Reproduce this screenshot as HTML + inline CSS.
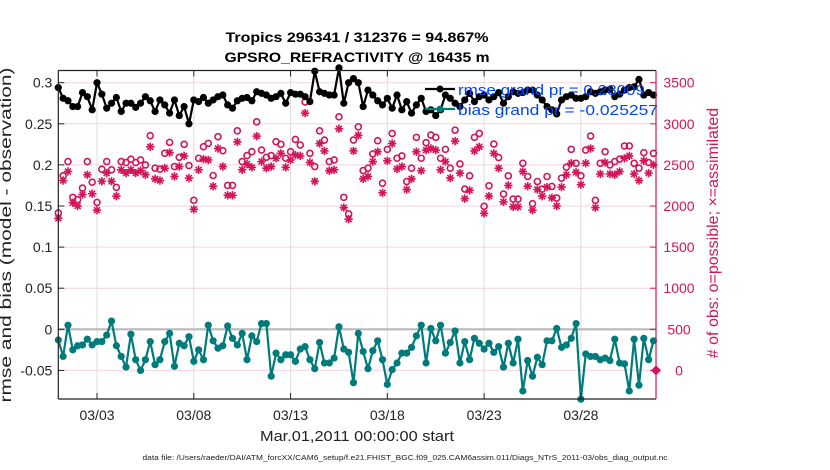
<!DOCTYPE html>
<html><head><meta charset="utf-8"><style>
html,body{margin:0;padding:0;background:#fff;}
svg{display:block;font-family:"Liberation Sans",Arial,sans-serif;}
</style></head><body>
<svg id="chart" width="830" height="470" viewBox="0 0 830 470" xmlns="http://www.w3.org/2000/svg">
<g>
<text x="357" y="42" text-anchor="middle" font-size="14" font-weight="bold" textLength="263" lengthAdjust="spacingAndGlyphs">Tropics 296341 / 312376 = 94.867%</text>
<text x="357" y="62" text-anchor="middle" font-size="14" font-weight="bold" textLength="265" lengthAdjust="spacingAndGlyphs">GPSRO_REFRACTIVITY @ 16435 m</text>
</g>
<g id="grid"></g>
<g id="marks"></g>
<g id="axes"></g>
<g>
<line x1="425" y1="89" x2="455" y2="89" stroke="#000" stroke-width="2.2"/>
<circle cx="440" cy="89" r="3.5" fill="#000"/>
<line x1="425" y1="109" x2="455" y2="109" stroke="#007b7b" stroke-width="2.2"/>
<circle cx="440" cy="109" r="3.5" fill="#007b7b"/>
<text x="458" y="95" font-size="15" fill="#0044ff" textLength="187" lengthAdjust="spacingAndGlyphs">rmse grand pr = 0.28009</text>
<text x="458" y="115" font-size="15" fill="#0044ff" textLength="200" lengthAdjust="spacingAndGlyphs">bias grand pr = -0.025257</text>
</g>
<text transform="translate(11,235) rotate(-90)" text-anchor="middle" font-size="16" fill="#222" textLength="335" lengthAdjust="spacingAndGlyphs">rmse and bias (model - observation)</text>
<text transform="translate(718,233) rotate(-90)" text-anchor="middle" font-size="16" fill="#d4145a">#  of obs: o=possible; ×=assimilated</text>
<text x="357" y="441" text-anchor="middle" font-size="15" fill="#222" textLength="194" lengthAdjust="spacingAndGlyphs">Mar.01,2011 00:00:00 start</text>
<text x="405" y="460" text-anchor="middle" font-size="7" fill="#222" textLength="525" lengthAdjust="spacingAndGlyphs">data file: /Users/raeder/DAI/ATM_forcXX/CAM6_setup/f.e21.FHIST_BGC.f09_025.CAM6assim.011/Diags_NTrS_2011-03/obs_diag_output.nc</text>
</svg>
<script>
const rmse=[0.294,0.281,0.278,0.271,0.271,0.288,0.283,0.267,0.300,0.286,0.269,0.275,0.282,0.265,0.275,0.275,0.270,0.275,0.283,0.278,0.265,0.279,0.273,0.263,0.279,0.260,0.271,0.250,0.279,0.277,0.282,0.275,0.279,0.283,0.285,0.273,0.269,0.278,0.281,0.282,0.278,0.289,0.287,0.285,0.281,0.283,0.287,0.275,0.288,0.286,0.286,0.283,0.277,0.314,0.289,0.287,0.285,0.285,0.318,0.275,0.300,0.305,0.300,0.271,0.291,0.285,0.278,0.273,0.281,0.269,0.285,0.267,0.277,0.263,0.273,0.281,0.265,0.267,0.260,0.267,0.285,0.281,0.275,0.271,0.279,0.287,0.277,0.283,0.285,0.279,0.283,0.288,0.275,0.283,0.289,0.287,0.288,0.291,0.291,0.285,0.279,0.271,0.267,0.262,0.279,0.283,0.285,0.281,0.281,0.283,0.289,0.287,0.289,0.291,0.292,0.283,0.286,0.291,0.294,0.295,0.304,0.285,0.288,0.285];
const bias=[-0.013,-0.033,0.005,-0.025,-0.020,-0.019,-0.012,-0.019,-0.015,-0.015,-0.007,0.010,-0.020,-0.033,-0.046,-0.006,-0.037,-0.050,-0.037,-0.015,-0.043,-0.037,-0.015,-0.005,-0.045,-0.017,-0.020,-0.009,-0.039,-0.025,-0.037,0.005,-0.014,-0.023,-0.020,0.004,-0.011,-0.019,-0.005,-0.037,-0.008,-0.015,0.007,0.007,-0.057,-0.029,-0.037,-0.031,-0.031,-0.039,-0.024,-0.021,-0.037,-0.048,-0.016,-0.041,-0.041,-0.035,0.003,-0.024,-0.028,-0.065,-0.005,-0.027,-0.048,-0.026,-0.014,-0.037,-0.067,-0.049,-0.041,-0.029,-0.029,-0.022,-0.008,0.005,-0.041,0.001,-0.014,0.005,-0.029,-0.016,-0.002,-0.041,-0.015,-0.037,-0.011,-0.017,-0.024,-0.017,-0.028,-0.021,-0.046,-0.017,-0.041,-0.012,-0.075,-0.038,-0.057,-0.034,-0.043,-0.014,-0.014,0.001,-0.022,-0.019,-0.011,0.007,-0.085,-0.030,-0.033,-0.033,-0.037,-0.035,-0.038,-0.012,-0.041,-0.042,-0.075,-0.012,-0.068,-0.011,-0.037,-0.014];
const possible=[1915,2367,2540,2105,2077,2218,2540,2290,2044,2448,2540,2440,2226,2540,2528,2569,2528,2560,2500,2855,2460,2448,2641,2774,2480,2593,2750,2492,2069,2581,2722,2762,2371,2843,2673,2250,2250,2915,2540,2613,2661,3024,2681,2593,2613,2782,2750,2581,2661,2810,2742,3266,2641,2480,2915,2802,2540,2560,3085,2105,1903,2802,2964,2431,2460,2633,2794,2278,2689,2883,2581,2609,2298,2460,2835,2581,2770,2863,2835,2581,2689,2460,2923,2512,2206,2367,2835,2883,1996,2246,2754,2589,2145,2367,2085,2085,2520,2359,2028,2298,2206,2359,2238,2097,2339,2472,2689,2520,2367,2681,2851,2069,2520,2661,2500,2540,2569,2730,2730,2520,2460,2649,2528,2641];
const assimilated=[1850,2310,2420,2040,2000,2140,2380,2150,1950,2300,2400,2300,2120,2440,2400,2440,2400,2430,2380,2720,2330,2310,2460,2650,2360,2480,2610,2340,1960,2440,2570,2560,2240,2700,2480,2130,2130,2780,2440,2510,2470,2850,2540,2460,2480,2580,2640,2470,2560,2620,2610,3130,2530,2300,2760,2670,2430,2440,2940,1980,1840,2670,2860,2330,2360,2540,2660,2160,2550,2760,2450,2480,2200,2330,2660,2430,2680,2700,2680,2440,2540,2340,2790,2400,2090,2190,2670,2720,1910,2120,2640,2460,2050,2250,1990,1990,2420,2240,1950,2200,2120,2230,2100,2000,2230,2380,2520,2410,2260,2520,2700,1980,2390,2530,2390,2380,2420,2580,2610,2390,2310,2550,2400,2500];
const xTicks=[2,7,12,17,22,27];
const xTickLabels=["03/03","03/08","03/13","03/18","03/23","03/28"];
const yTicks=[-0.05,0,0.05,0.1,0.15,0.2,0.25,0.3];
const yTickLabels=["-0.05","0","0.05","0.1","0.15","0.2","0.25","0.3"];
const rTicks=[0,500,1000,1500,2000,2500,3000,3500];
const rTickLabels=["0","500","1000","1500","2000","2500","3000","3500"];
const stepDays=0.25;

const NS="http://www.w3.org/2000/svg";
const L=58.3,R=656,T=70.5,B=399;
const X0=0,X1=30.88;
const yZero=329.3,yPer=822;
function xs(d){return L+(d-X0)/(X1-X0)*(R-L);}
function ys(v){return yZero-v*yPer;}
function yr(c){return ys(c/10000-0.05);}
function mk(tag,attrs,parent){const e=document.createElementNS(NS,tag);for(const k in attrs)e.setAttribute(k,attrs[k]);parent.appendChild(e);return e;}
const grid=document.getElementById('grid'),marks=document.getElementById('marks'),axes=document.getElementById('axes');

xTicks.forEach(t=>{const l=mk('line',{x1:xs(t),x2:xs(t),y1:T,y2:B,stroke:'#dddddd','stroke-width':1},grid);

});
rTicks.forEach(t=>{const l=mk('line',{x1:L,x2:R,y1:yr(t),y2:yr(t),stroke:'#f6d3df','stroke-width':1},grid);

});
const zl=mk('line',{x1:L,x2:R,y1:ys(0),y2:ys(0),stroke:'#b8b8b8','stroke-width':2.2},grid);



possible.forEach((c,i)=>{const e=mk('circle',{cx:xs(i*stepDays),cy:yr(c),r:3,fill:'none',stroke:'#d4145a','stroke-width':1.6},marks);

});
assimilated.forEach((c,i)=>{const cx=xs(i*stepDays),cy=yr(c);const g=mk('g',{stroke:'#d4145a','stroke-width':1.6},marks);


for(let a=0;a<4;a++){const ang=a*Math.PI/4,dx=4.2*Math.cos(ang),dy=4.2*Math.sin(ang);mk('line',{x1:cx-dx,y1:cy-dy,x2:cx+dx,y2:cy+dy},g);}});

function series(arr,color,name){
 const pts=arr.map((v,i)=>xs(i*stepDays).toFixed(1)+','+ys(v).toFixed(1)).join(' ');
 const p=mk('polyline',{points:pts,fill:'none',stroke:color,'stroke-width':2.2,'stroke-linejoin':'round'},marks);
 
 
 arr.forEach((v,i)=>{const c=mk('circle',{cx:xs(i*stepDays),cy:ys(v),r:3.6,fill:color},marks);
 
 });
}
series(bias,'#007b7b','bias');
series(rmse,'#000000','rmse');

mk('line',{x1:L,x2:R,y1:T,y2:T,stroke:'#222','stroke-width':1.2},axes);
mk('line',{x1:L,x2:R,y1:B,y2:B,stroke:'#222','stroke-width':1.2},axes);
mk('line',{x1:L,x2:L,y1:T,y2:B,stroke:'#222','stroke-width':1.2},axes);
mk('line',{x1:R,x2:R,y1:T,y2:B,stroke:'#d4145a','stroke-width':1.2},axes);
xTicks.forEach((t,i)=>{mk('line',{x1:xs(t),x2:xs(t),y1:B,y2:B-6,stroke:'#222'},axes);mk('line',{x1:xs(t),x2:xs(t),y1:T,y2:T+6,stroke:'#222'},axes);
const tx=mk('text',{x:xs(t),y:B+21,'text-anchor':'middle','font-size':14,fill:'#222'},axes);tx.textContent=xTickLabels[i];

});
yTicks.forEach((t,i)=>{mk('line',{x1:L,x2:L+6,y1:ys(t),y2:ys(t),stroke:'#222'},axes);
const tx=mk('text',{x:L-6,y:ys(t)+5,'text-anchor':'end','font-size':14,fill:'#222'},axes);tx.textContent=yTickLabels[i];

});
rTicks.forEach((t,i)=>{mk('line',{x1:R,x2:R-6,y1:yr(t),y2:yr(t),stroke:'#d4145a'},axes);
const tx=mk('text',{x:679,y:yr(t)+5,'text-anchor':'middle','font-size':14,fill:'#d4145a'},axes);tx.textContent=rTickLabels[i];

});
const dm=mk('path',{d:`M${R-5},${yr(0)} L${R},${yr(0)-5} L${R+5},${yr(0)} L${R},${yr(0)+5} Z`,fill:'#d4145a'},axes);


</script>
</body></html>
